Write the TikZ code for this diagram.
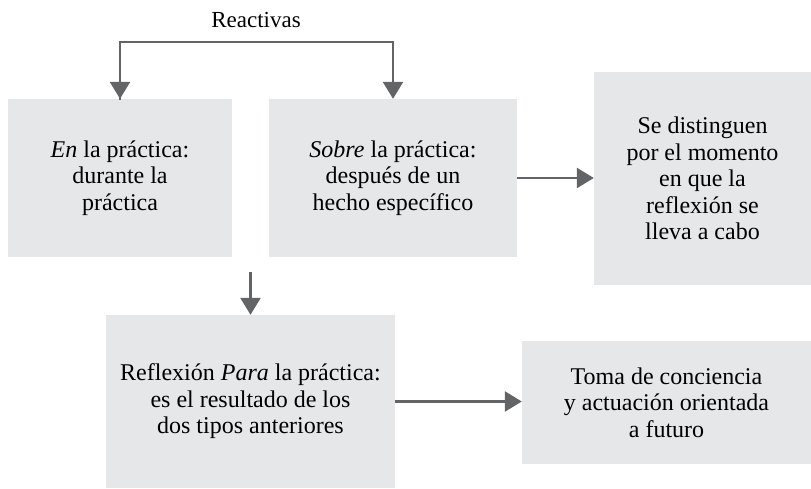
\documentclass[tikz,border=0pt]{standalone}
\usepackage{fontspec}
\setmainfont{Liberation Serif}
\usepackage{tikz}
\usetikzlibrary{arrows.meta}
\usetikzlibrary{positioning}

\definecolor{boxgray}{RGB}{230,231,232}
\definecolor{arrowgray}{RGB}{99,100,102}

\begin{document}
\begin{tikzpicture}[
  x=1pt, y=1pt,
  > = {Triangle[length=17pt,width=20pt]},
  box/.style = {fill=boxgray, draw=none, align=center, inner sep=0pt,
    font=\fontsize{24}{26.5}\selectfont},
  link/.style = {draw=arrowgray, line width=2.6pt, ->, arrowgray}
  ]
	\useasboundingbox (0,0) rectangle (811,-488);

	\node[box, minimum width=224, minimum height=158] (en) at (120,-178)
		{\textit{En} la práctica:\\ durante la\\ práctica};
	\node[box, minimum width=248, minimum height=158] (sobre) at (393,-178)
		{\textit{Sobre} la práctica:\\ después de un\\ hecho específico};
	\node[box, minimum width=217, minimum height=213] (momento) at (702.5,-178.5)
		{Se distinguen\\ por el momento\\ en que la\\ reflexión se\\ lleva a cabo};
	\node[box, minimum width=289, minimum height=173] (para) at (250.5,-401.5)
		{Reflexión \textit{Para} la práctica:\\ es el resultado de los\\ dos tipos anteriores};
	\node[box, minimum width=289, minimum height=123] (toma) at (666.5,-402.5)
		{Toma de conciencia\\ y actuación orientada\\ a futuro};

	\node[font=\fontsize{23}{26}\selectfont] (reactivas) at (256,-20) {Reactivas};

	\coordinate (bl) at (120,-42);
	\coordinate (br) at (393,-42);
	\coordinate (down) at (250.5,-272);

	\draw[link, line cap=rect] (en.north) -- (bl) -- (br) -- (sobre.north);
	\draw[link, <-] (en.north) -- (bl);
	\draw[link] (sobre.east) -- (sobre.east -| momento.west);
	\draw[link] (down) -- (para.north);
	\draw[link] (para.east) -- (para.east -| toma.west);
\end{tikzpicture}
\end{document}
